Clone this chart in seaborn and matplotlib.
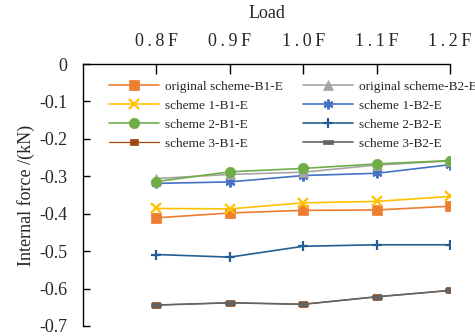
import matplotlib
matplotlib.use("Agg")
import matplotlib.pyplot as plt
import seaborn as sns
import pandas as pd
import numpy as np
from matplotlib.path import Path

loads = ["0.8F", "0.9F", "1.0F", "1.1F", "1.2F"]
series_names = [
    "original scheme-B1-E", "original scheme-B2-E",
    "scheme 1-B1-E", "scheme 1-B2-E",
    "scheme 2-B1-E", "scheme 2-B2-E",
    "scheme 3-B1-E", "scheme 3-B2-E",
]
orig_b1 = [-0.411, -0.398, -0.391, -0.390, -0.380]
orig_b2 = [-0.306, -0.295, -0.289, -0.270, -0.259]
s1_b1 = [-0.386, -0.387, -0.371, -0.367, -0.354]
s1_b2 = [-0.319, -0.315, -0.298, -0.292, -0.269]
s2_b1 = [-0.314, -0.288, -0.279, -0.267, -0.258]
s2_b2 = [-0.509, -0.516, -0.487, -0.483, -0.483]
s3_b1 = [-0.644, -0.638, -0.642, -0.622, -0.605]
s3_b2 = [-0.644, -0.638, -0.642, -0.622, -0.605]
values = [orig_b1, orig_b2, s1_b1, s1_b2, s2_b1, s2_b2, s3_b1, s3_b2]

colors = {
    "original scheme-B1-E": "#ED7D31",
    "original scheme-B2-E": "#A5A5A5",
    "scheme 1-B1-E": "#FFC000",
    "scheme 1-B2-E": "#4472C4",
    "scheme 2-B1-E": "#70AD47",
    "scheme 2-B2-E": "#255E91",
    "scheme 3-B1-E": "#9E480E",
    "scheme 3-B2-E": "#636363",
}
bar_small = Path([(-0.6, -0.45), (0.6, -0.45), (0.6, 0.45), (-0.6, 0.45), (-0.6, -0.45)],
                 [Path.MOVETO, Path.LINETO, Path.LINETO, Path.LINETO, Path.CLOSEPOLY])
bar_wide = Path([(-1, -0.45), (1, -0.45), (1, 0.45), (-1, 0.45), (-1, -0.45)],
                [Path.MOVETO, Path.LINETO, Path.LINETO, Path.LINETO, Path.CLOSEPOLY])
markers = {
    "original scheme-B1-E": "s",
    "original scheme-B2-E": "^",
    "scheme 1-B1-E": "x",
    "scheme 1-B2-E": (6, 2, 0),
    "scheme 2-B1-E": "o",
    "scheme 2-B2-E": "+",
    "scheme 3-B1-E": bar_small,
    "scheme 3-B2-E": bar_wide,
}
msizes = {
    "original scheme-B1-E": 7.5,
    "original scheme-B2-E": 7,
    "scheme 1-B1-E": 6.5,
    "scheme 1-B2-E": 7,
    "scheme 2-B1-E": 7.5,
    "scheme 2-B2-E": 7,
    "scheme 3-B1-E": 5.5,
    "scheme 3-B2-E": 7.5,
}

rows = []
for name, vals in zip(series_names, values):
    for i, v in enumerate(vals):
        rows.append({"series": name, "x": i + 1, "value": v})
df = pd.DataFrame(rows)

sns.set_style("white")
plt.rcParams["font.family"] = ["Liberation Serif", "DejaVu Serif"]

fig = plt.figure(figsize=(4.75, 3.36), dpi=100)
ax = fig.add_axes([83 / 475, 1 - 326 / 336, (450 - 83) / 475, (326 - 64) / 336])

draw_order = ["scheme 3-B1-E", "scheme 3-B2-E", "scheme 2-B2-E", "original scheme-B1-E",
              "scheme 1-B1-E", "scheme 1-B2-E", "original scheme-B2-E", "scheme 2-B1-E"]
handles = {}
for name in draw_order:
    sub = df[df.series == name]
    lw = 0.9 if name == "scheme 3-B1-E" else 1.2
    sns.lineplot(data=sub, x="x", y="value", ax=ax, color=colors[name],
                 marker=markers[name], markersize=msizes[name],
                 markeredgecolor=colors[name], markerfacecolor=colors[name],
                 markeredgewidth=1.6 if name in ("scheme 1-B1-E", "scheme 1-B2-E", "scheme 2-B2-E") else 0.5,
                 linewidth=lw, label=name, legend=False)
    handles[name] = ax.lines[-1]

ax.set_xlim(0, 5)
ax.set_ylim(-0.7, 0)
ax.set_xticks([1, 2, 3, 4, 5])
ax.set_xticklabels(["\u2009".join(list(l)) for l in loads], fontsize=13)
ax.set_yticks(np.arange(-0.7, 0.001, 0.1))
ax.set_yticklabels(["-0.7", "-0.6", "-0.5", "-0.4", "-0.3", "-0.2", "-0.1", "0"], fontsize=13)
ax.xaxis.tick_top()
ax.xaxis.set_label_position("top")
ax.tick_params(axis="x", direction="in", length=7, width=1, color="black", pad=10,
               top=True, bottom=False)
ax.tick_params(axis="y", direction="in", length=5, width=1, color="black", pad=11,
               left=True)
ax.set_xlabel("Load", fontsize=13, labelpad=11)
ax.set_ylabel("Internal force /(kN)", fontsize=13, labelpad=3)

for s in ["right", "bottom"]:
    ax.spines[s].set_visible(False)
for s in ["left", "top"]:
    ax.spines[s].set_color("black")
    ax.spines[s].set_linewidth(1)

leg_order = ["original scheme-B1-E", "scheme 1-B1-E", "scheme 2-B1-E", "scheme 3-B1-E",
             "original scheme-B2-E", "scheme 1-B2-E", "scheme 2-B2-E", "scheme 3-B2-E"]
leg = ax.legend([handles[n] for n in leg_order], leg_order, ncol=2, frameon=False,
                loc="upper left", bbox_to_anchor=(0.055, 0.958), fontsize=9.65,
                handlelength=3.75, handletextpad=0.45, columnspacing=1.5,
                labelspacing=0.5, borderaxespad=0)
leg.set_clip_on(False)

fig.savefig("out.png", dpi=100)
